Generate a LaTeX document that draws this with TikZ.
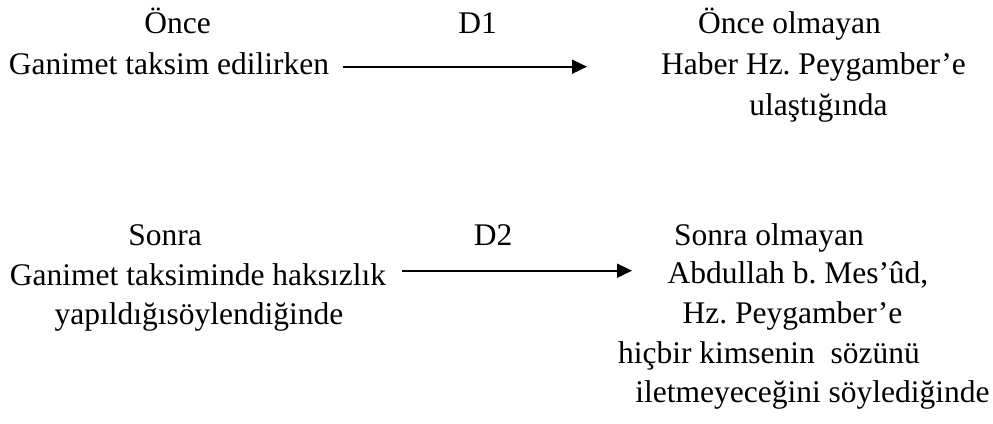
\documentclass[tikz,border=0pt]{standalone}
\usepackage{fontspec}
\setmainfont{Liberation Serif}
\usetikzlibrary{arrows.meta}
\frenchspacing
\tikzset{
  txt/.style={anchor=base, inner sep=0pt, font=\fontsize{31.5}{38}\selectfont},
  arr/.style={line width=1.8pt, -{Triangle[length=15pt, width=14pt]}}
}
\begin{document}
\frenchspacing
\begin{tikzpicture}[x=1pt, y=-1pt]
\useasboundingbox (0,0) rectangle (993,423);
% block 1
\node[txt] (o1) at (177.5,33) {Önce};
\node[txt] (d1) at (477.5,33) {D1};
\node[txt] (g1) at (169,74) {Ganimet taksim edilirken};
\node[txt] (r1a) at (789.5,33) {Önce olmayan};
\node[txt] (r1b) at (813.5,74.5) {Haber Hz.\ Peygamber’e};
\node[txt] (r1c) at (818.5,115) {ulaştığında};
\coordinate (a1e) at (587,66.7);
\draw[arr] ([xshift=14pt]g1.east |- a1e) -- (a1e);
% block 2
\node[txt] (o2) at (165,245) {Sonra};
\node[txt] (d2) at (493,245) {D2};
\node[txt] (g2a) at (198,285) {Ganimet taksiminde haksızlık};
\node[txt] (g2b) at (199,324) {yapıldığısöylendiğinde};
\node[txt] (r2a) at (769,245) {Sonra olmayan};
\node[txt] (r2b) at (798,283) {Abdullah b.\ Mes’ûd,};
\node[txt] (r2c) at (792.5,323) {Hz.\ Peygamber’e};
\node[txt] (r2d) at (769,363) {hiçbir kimsenin\ \ sözünü};
\node[txt] (r2e) at (812.5,402) {iletmeyeceğini söylediğinde};
\coordinate (a2e) at (632,270.7);
\draw[arr] ([xshift=16pt]g2a.east |- a2e) -- (a2e);
\end{tikzpicture}
\end{document}
